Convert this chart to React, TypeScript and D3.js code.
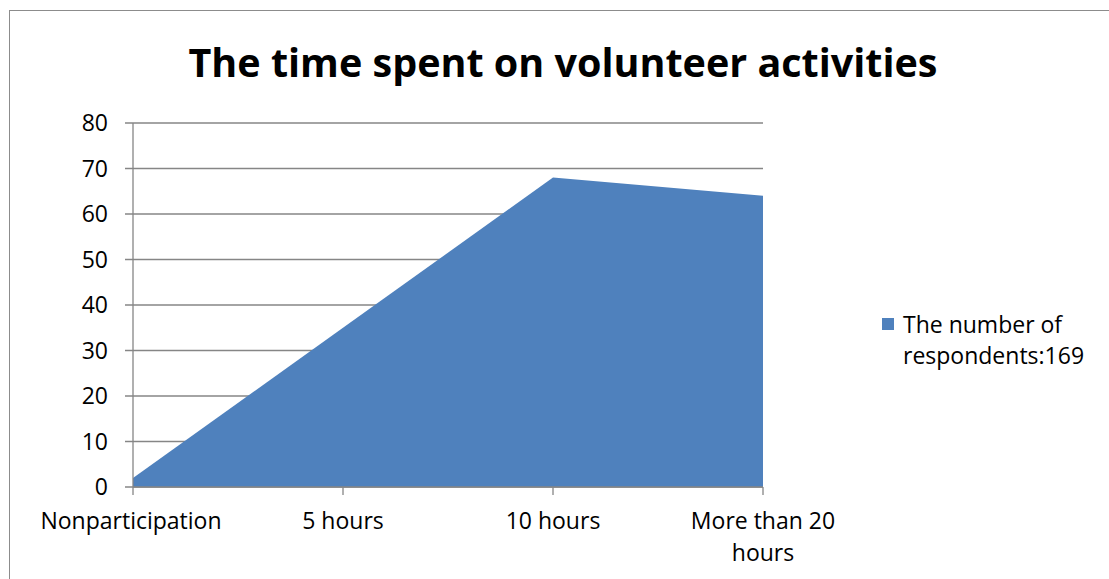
import React from "react";
import * as d3 from "d3";

// Hours spent volunteering, by respondent count
const categories = ["Nonparticipation", "5 hours", "10 hours", "More than 20 hours"];
const respondents = [2, 35, 68, 64];
const yTicks = [0, 10, 20, 30, 40, 50, 60, 70, 80];
const titleText = "The time spent on volunteer activities";
const legendLines = ["The number of", "respondents:169"];

const W = 1109;
const H = 579;
const FONT = "'Open Sans', 'Noto Sans', sans-serif";
const AXIS = "#868686";
const FILL = "#4F81BD";
const LABEL_SIZE = 23;

// Multi-word category labels that are too long go onto two lines
function wrapLabel(label: string): string[] {
  const words = label.split(" ");
  if (label.length <= 14 || words.length < 2) return [label];
  return [words.slice(0, -1).join(" "), words[words.length - 1]];
}

export default function App() {
  const x = d3.scalePoint<string>().domain(categories).range([133, 763]);
  const y = d3.scaleLinear().domain([0, 80]).range([487, 123]);

  const area = d3
    .area<number>()
    .x((_, i) => x(categories[i]) as number)
    .y0(y(0))
    .y1((d) => y(d));

  const left = 133;
  const right = 763;

  return (
    <svg
      width={W}
      height={H}
      style={{ position: "absolute", left: 0, top: 0, background: "#fff" }}
      fontFamily={FONT}
    >
      <rect x={0} y={0} width={W} height={H} fill="#fff" />
      {/* chart frame */}
      <rect x={9.5} y={10.5} width={1120} height={600} fill="none" stroke="#8c8c8c" strokeWidth={1} />

      <text x={563} y={77} textAnchor="middle" fontSize={39.5} fontWeight={700} fill="#000">
        {titleText}
      </text>

      {/* horizontal gridlines */}
      {yTicks.map((t) => (
        <line key={"g" + t} x1={left - 8} x2={right} y1={y(t)} y2={y(t)} stroke={AXIS} strokeWidth={1.3} />
      ))}

      <path d={area(respondents) ?? ""} fill={FILL} />

      {/* y axis */}
      <line x1={left} x2={left} y1={y(80)} y2={y(0)} stroke={AXIS} strokeWidth={1.3} />
      {yTicks.map((t) => (
        <text key={"yl" + t} x={108} y={y(t) + 8} textAnchor="end" fontSize={LABEL_SIZE} fill="#000">
          {t}
        </text>
      ))}

      {/* x axis */}
      <line x1={left} x2={right} y1={y(0)} y2={y(0)} stroke={AXIS} strokeWidth={1.3} />
      {categories.map((c) => (
        <line
          key={"xt" + c}
          x1={x(c)}
          x2={x(c)}
          y1={y(0)}
          y2={y(0) + 8}
          stroke={AXIS}
          strokeWidth={1.3}
        />
      ))}
      {categories.map((c) => (
        <text key={"xl" + c} textAnchor="middle" fontSize={LABEL_SIZE} fill="#000">
          {wrapLabel(c).map((ln, i) => (
            <tspan key={i} x={(x(c) as number) - (c === categories[0] ? 2 : 0)} y={529 + i * 32}>
              {ln}
            </tspan>
          ))}
        </text>
      ))}

      {/* legend */}
      <rect x={882} y={318} width={12} height={12} fill={FILL} />
      <text fontSize={LABEL_SIZE} fill="#000">
        {legendLines.map((ln, i) => (
          <tspan key={i} x={903} y={333 + i * 31}>
            {ln}
          </tspan>
        ))}
      </text>
    </svg>
  );
}
